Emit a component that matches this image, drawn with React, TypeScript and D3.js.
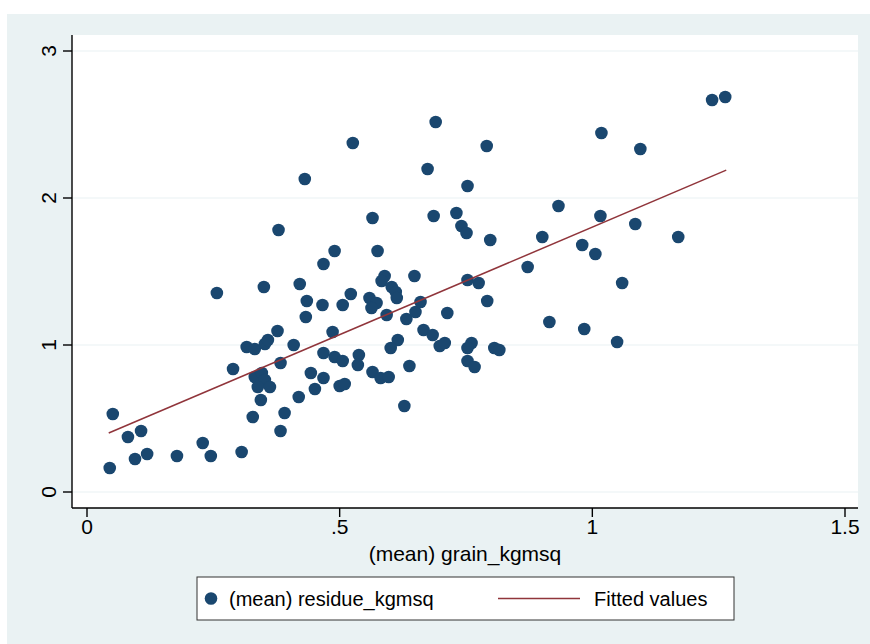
import React from 'react'
import * as d3 from 'd3'

// (mean) grain_kgmsq
const grain = [
  0.045, 0.051, 0.081, 0.107, 0.095, 0.119, 0.178, 0.229, 0.245, 0.306,
  0.257, 0.289, 0.328, 0.344, 0.383, 0.391, 0.419, 0.443, 0.451, 0.409,
  0.377, 0.433, 0.435, 0.316, 0.332, 0.352, 0.358, 0.383, 0.332, 0.346,
  0.352, 0.338, 0.362, 0.69, 0.526, 0.431, 0.674, 0.379, 0.565, 0.686,
  0.731, 0.741, 0.751, 0.49, 0.575, 0.468, 0.35, 0.421, 0.466, 0.506,
  0.522, 0.559, 0.573, 0.563, 0.589, 0.583, 0.603, 0.611, 0.613, 0.648,
  0.593, 0.632, 0.65, 0.66, 0.486, 0.666, 0.684, 0.615, 0.601, 0.698,
  0.708, 0.468, 0.49, 0.506, 0.538, 0.536, 0.565, 0.581, 0.597, 0.638,
  0.468, 0.5, 0.51, 0.628, 0.713, 0.791, 0.753, 0.798, 0.933, 1.016,
  1.085, 0.901, 0.98, 1.006, 0.872, 0.753, 0.775, 0.792, 1.059, 0.915,
  0.984, 1.049, 0.761, 0.753, 0.806, 0.816, 0.753, 0.767, 1.237, 1.263,
  1.018, 1.095, 1.17,
]

// (mean) residue_kgmsq
const residue = [
  0.163, 0.531, 0.374, 0.415, 0.224, 0.259, 0.245, 0.333, 0.245, 0.272,
  1.354, 0.837, 0.51, 0.626, 0.415, 0.537, 0.646, 0.81, 0.701, 1.0,
  1.095, 1.19, 1.299, 0.986, 0.973, 1.007, 1.034, 0.878, 0.782, 0.81,
  0.762, 0.714, 0.714, 2.517, 2.374, 2.129, 2.197, 1.782, 1.864, 1.878,
  1.898, 1.81, 1.762, 1.639, 1.639, 1.551, 1.395, 1.415, 1.272, 1.272,
  1.347, 1.32, 1.286, 1.252, 1.469, 1.435, 1.395, 1.361, 1.32, 1.469,
  1.204, 1.177, 1.224, 1.293, 1.088, 1.102, 1.068, 1.034, 0.98, 0.993,
  1.014, 0.946, 0.918, 0.891, 0.932, 0.864, 0.816, 0.776, 0.782, 0.857,
  0.776, 0.721, 0.735, 0.585, 1.218, 2.354, 2.082, 1.714, 1.946, 1.878,
  1.823, 1.735, 1.68, 1.619, 1.531, 1.442, 1.422, 1.299, 1.422, 1.156,
  1.109, 1.02, 1.014, 0.98, 0.98, 0.966, 0.891, 0.85, 2.667, 2.687,
  2.442, 2.333, 1.735,
]

// Fitted values (endpoints of the linear fit)
const fitX = [0.043, 1.265]
const fitY = [0.401, 2.19]

const xTicks = [0, 0.5, 1, 1.5]
const xTickLabels = ['0', '.5', '1', '1.5']
const yTicks = [0, 1, 2, 3]
const yTickLabels = ['0', '1', '2', '3']

const W = 870
const H = 644
const FONT = "'Liberation Sans', Arial, Helvetica, sans-serif"
const BG = '#eaf2f3'
const NAVY = '#1a476f'
const MAROON = '#90353b'

export default function App() {
  const plot = { left: 72, right: 858, top: 35, bottom: 508 }

  const x = d3.scaleLinear().domain([0, 1.5]).range([87, 845])
  const y = d3.scaleLinear().domain([0, 3]).range([492, 51])

  const points = grain.map((g, i) => ({ g, r: residue[i] }))
  const fitLine = d3
    .line<number>()
    .x((d) => x(d))
    .y((_, i) => y(fitY[i]))(fitX)

  const legend = { x: 197, y: 577, w: 537, h: 43 }
  const legendMid = legend.y + legend.h / 2

  return (
    <div style={{ position: 'absolute', left: 0, top: 0 }}>
      <svg width={W} height={H} style={{ display: 'block' }}>
        <rect x={0} y={0} width={W} height={H} fill="#fff" />
        <rect x={7} y={14} width={W - 7} height={H - 14} fill={BG} />
        <rect
          x={plot.left}
          y={plot.top}
          width={plot.right - plot.left}
          height={plot.bottom - plot.top}
          fill="#fff"
        />

        {/* Gridlines */}
        {yTicks.map((t) => (
          <line
            key={'g' + t}
            x1={plot.left}
            x2={plot.right}
            y1={y(t)}
            y2={y(t)}
            stroke={BG}
            strokeWidth={1.2}
          />
        ))}

        {/* Points */}
        {points.map((p, i) => (
          <circle key={i} cx={x(p.g)} cy={y(p.r)} r={6.3} fill={NAVY} />
        ))}

        {/* Fitted line */}
        <path d={fitLine || ''} fill="none" stroke={MAROON} strokeWidth={1.5} />

        {/* Axes */}
        <line x1={plot.left} x2={plot.left} y1={plot.top} y2={plot.bottom} stroke="#000" strokeWidth={1.4} />
        <line x1={plot.left} x2={plot.right} y1={plot.bottom} y2={plot.bottom} stroke="#000" strokeWidth={1.4} />

        {yTicks.map((t, i) => (
          <g key={'y' + t}>
            <line x1={plot.left - 9} x2={plot.left} y1={y(t)} y2={y(t)} stroke="#000" strokeWidth={1.4} />
            <text
              transform={`translate(${plot.left - 16},${y(t)}) rotate(-90)`}
              textAnchor="middle"
              fontFamily={FONT}
              fontSize={21}
              fill="#000"
            >
              {yTickLabels[i]}
            </text>
          </g>
        ))}

        {xTicks.map((t, i) => (
          <g key={'x' + t}>
            <line x1={x(t)} x2={x(t)} y1={plot.bottom} y2={plot.bottom + 9} stroke="#000" strokeWidth={1.4} />
            <text
              x={x(t)}
              y={plot.bottom + 26}
              textAnchor="middle"
              fontFamily={FONT}
              fontSize={21}
              fill="#000"
            >
              {xTickLabels[i]}
            </text>
          </g>
        ))}

        <text
          x={(plot.left + plot.right) / 2}
          y={561}
          textAnchor="middle"
          fontFamily={FONT}
          fontSize={21}
          fill="#000"
        >
          (mean) grain_kgmsq
        </text>

        {/* Legend */}
        <rect x={legend.x} y={legend.y} width={legend.w} height={legend.h} fill="#fff" stroke="#333" strokeWidth={1} />
        <circle cx={211} cy={legendMid} r={6.3} fill={NAVY} />
        <text x={229} y={legendMid + 7} fontFamily={FONT} fontSize={20} fill="#000">
          (mean) residue_kgmsq
        </text>
        <line x1={498} x2={580} y1={legendMid} y2={legendMid} stroke={MAROON} strokeWidth={1.5} />
        <text x={594} y={legendMid + 7} fontFamily={FONT} fontSize={20} fill="#000">
          Fitted values
        </text>
      </svg>
    </div>
  )
}
